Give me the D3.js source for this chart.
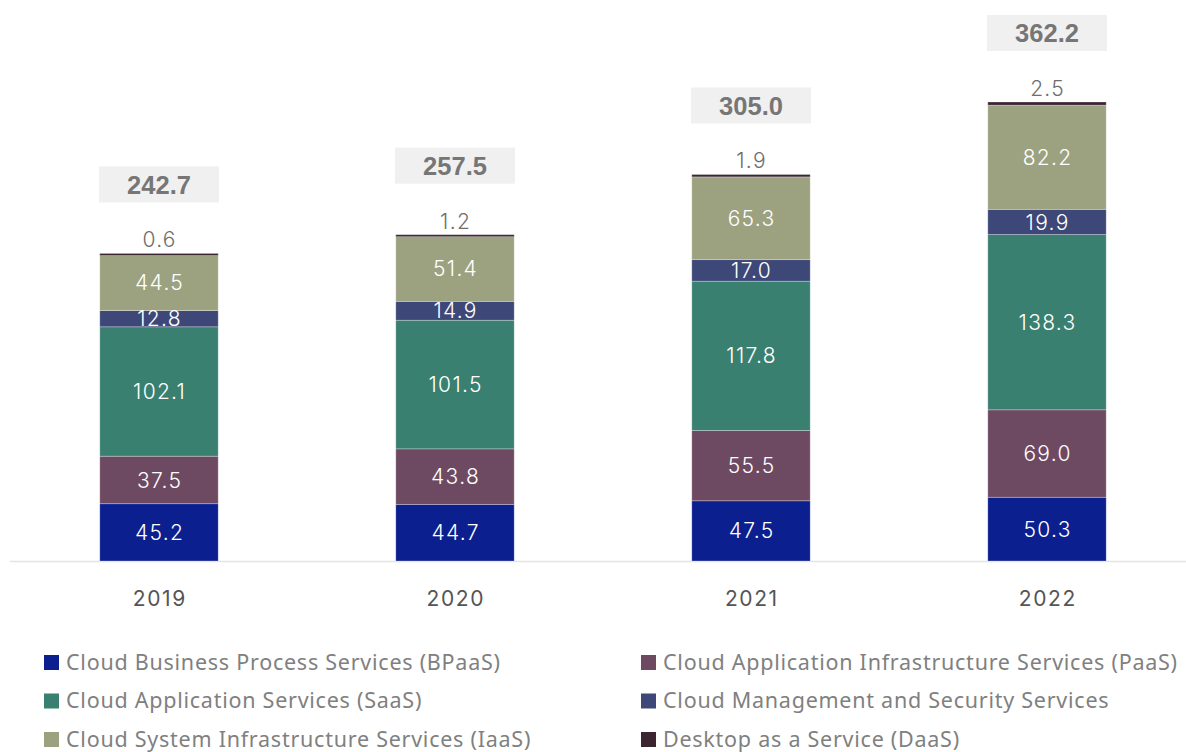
<!DOCTYPE html>
<html>
<head>
<meta charset="utf-8">
<script src="https://cdn.jsdelivr.net/npm/d3@7"></script>
<style>
  body { margin: 0; background: #fff; }
</style>
</head>
<body>
<div id="chart"></div>
<script>
const years = ['2019', '2020', '2021', '2022'];
const series_names = [
    'Cloud Business Process Services (BPaaS)',
    'Cloud Application Infrastructure Services (PaaS)',
    'Cloud Application Services (SaaS)',
    'Cloud Management and Security Services',
    'Cloud System Infrastructure Services (IaaS)',
    'Desktop as a Service (DaaS)'
];
const bpaas = [45.2, 44.7, 47.5, 50.3];
const paas = [37.5, 43.8, 55.5, 69.0];
const saas = [102.1, 101.5, 117.8, 138.3];
const mgmt = [12.8, 14.9, 17.0, 19.9];
const iaas = [44.5, 51.4, 65.3, 82.2];
const daas = [0.6, 1.2, 1.9, 2.5];
const totals = [242.7, 257.5, 305.0, 362.2];
const colors = ['#0b1f8f', '#6e4a62', '#3a8070', '#3d4878', '#9ca27f', '#3a2530'];

const chart_width = 1186;
const chart_height = 752;
const baseline = 561;

const series_values = [bpaas, paas, saas, mgmt, iaas, daas];
const keys = ['bpaas', 'paas', 'saas', 'mgmt', 'iaas', 'daas'];
const rows = years.map((y, i) => {
    const r = { year: y, total: totals[i] };
    keys.forEach((k, j) => r[k] = series_values[j][i]);
    return r;
});

const stacked = d3.stack().keys(keys)(rows);

const svg = d3.select('#chart')
    .append('svg')
    .attr('width', chart_width)
    .attr('height', chart_height);

const x_scale = d3.scaleBand()
    .domain(years)
    .range([11, 1195])
    .paddingInner(0.6)
    .paddingOuter(0.3);

const y_scale = d3.scaleLinear()
    .domain([0, 362.2])
    .range([baseline, 102]);

// Baseline
svg.append('line')
    .attr('x1', 10)
    .attr('x2', chart_width)
    .attr('y1', baseline + 0.5)
    .attr('y2', baseline + 0.5)
    .attr('stroke', '#e4e4e4')
    .attr('stroke-width', 1.5);

// Bars
const layers = svg.append('g')
    .selectAll('g')
    .data(stacked)
    .enter()
    .append('g')
    .attr('fill', (d, i) => colors[i]);

layers.selectAll('rect')
    .data(d => d)
    .enter()
    .append('rect')
    .attr('x', d => x_scale(d.data.year))
    .attr('y', d => y_scale(d[1]))
    .attr('width', x_scale.bandwidth())
    .attr('height', d => Math.max(y_scale(d[0]) - y_scale(d[1]), 2))
    .attr('stroke', 'rgba(255,255,255,0.35)')
    .attr('stroke-width', 0.8);

// Segment labels (DaaS sits above the bar)
stacked.forEach((layer, i) => {
    const is_daas = keys[i] === 'daas';
    svg.append('g')
        .selectAll('text')
        .data(layer)
        .enter()
        .append('text')
        .attr('x', d => x_scale(d.data.year) + x_scale.bandwidth() / 2 + 0.6)
        .attr('y', d => is_daas ? y_scale(d[1]) - 6 : (y_scale(d[0]) + y_scale(d[1])) / 2)
        .attr('dy', is_daas ? 0 : '0.36em')
        .attr('text-anchor', 'middle')
        .attr('font-family', 'Inter, "Noto Sans", sans-serif')
        .attr('font-size', 21)
        .attr('font-weight', 300)
        .attr('letter-spacing', '1.3px')
        .attr('fill', is_daas ? '#6e6e6e' : '#fff')
        .text(d => d.data[keys[i]].toFixed(1));
});

// Total boxes
const tot = svg.append('g')
    .selectAll('g')
    .data(rows)
    .enter()
    .append('g')
    .attr('transform', d => `translate(${x_scale(d.year) + x_scale.bandwidth() / 2}, ${y_scale(d.total) - 69})`);

tot.append('rect')
    .attr('x', -60)
    .attr('y', -18)
    .attr('width', 120)
    .attr('height', 36)
    .attr('fill', '#f0f0f0');

tot.append('text')
    .attr('text-anchor', 'middle')
    .attr('dy', '0.36em')
    .attr('font-family', '"Liberation Sans", Arial, sans-serif')
    .attr('font-weight', 'bold')
    .attr('font-size', 25.5)
    .attr('fill', '#767676')
    .text(d => d.total.toFixed(1));

// X axis labels
const x_axis = d3.axisBottom(x_scale).tickSize(0).tickPadding(30);
svg.append('g')
    .attr('transform', `translate(0, ${baseline})`)
    .call(x_axis)
    .call(g => g.select('.domain').remove())
    .selectAll('text')
    .attr('font-family', 'Inter, "Noto Sans", sans-serif')
    .attr('font-size', 21)
    .attr('letter-spacing', '1.6px')
    .attr('dx', '0.8px')
    .attr('fill', '#555');

// Legend
const legend = svg.append('g')
    .selectAll('g')
    .data(series_names)
    .enter()
    .append('g')
    .attr('transform', (d, i) => `translate(${i % 2 === 0 ? 44 : 641}, ${662 + Math.floor(i / 2) * 38.5})`);

legend.append('rect')
    .attr('x', 0)
    .attr('y', -7)
    .attr('width', 15)
    .attr('height', 15)
    .attr('fill', (d, i) => colors[i]);

legend.append('text')
    .attr('x', 22)
    .attr('dy', '0.36em')
    .attr('font-family', '"Noto Sans", sans-serif')
    .attr('font-size', 21.5)
    .attr('letter-spacing', '0.75px')
    .attr('fill', '#808080')
    .text(d => d);
</script>
</body>
</html>
